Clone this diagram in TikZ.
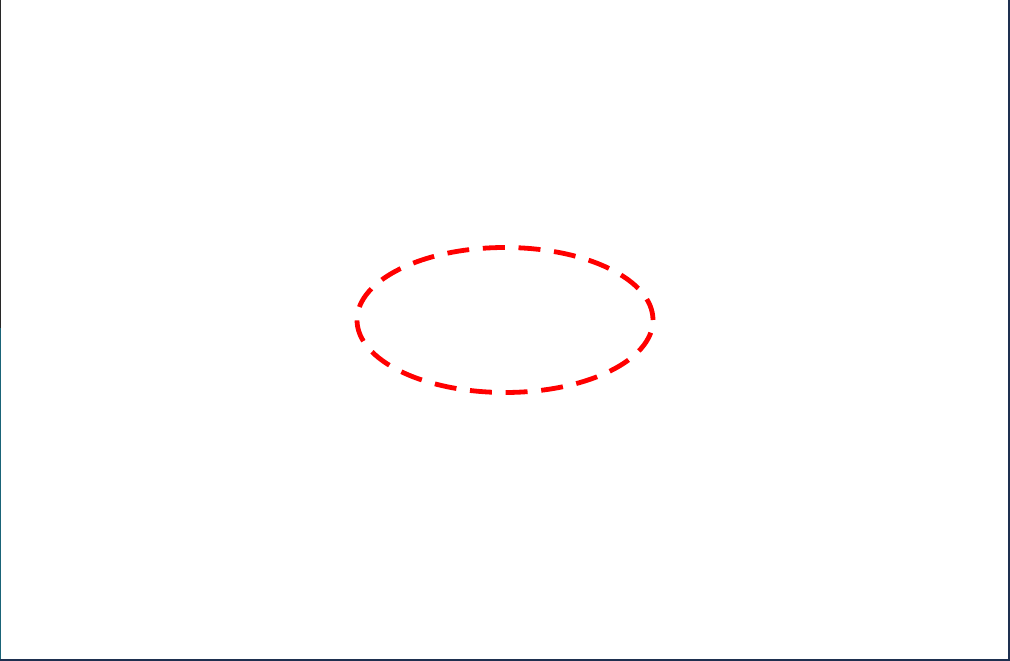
\documentclass[tikz,border=0pt]{standalone}
\begin{document}
\begin{tikzpicture}[x=1pt,y=1pt,
  redring/.style={draw={rgb,255:red,255;green,0;blue,0}, line width=4.8pt, dash pattern=on 22pt off 13.7pt}]
\definecolor{framenavy}{RGB}{30,48,80}
\definecolor{frameteal}{RGB}{26,100,120}
\definecolor{framedark}{RGB}{40,40,40}
\useasboundingbox (0,0) rectangle (1010,661);
\fill[white] (0,0) rectangle (1010,661);
% frame edges
\fill[framedark] (0,333) rectangle (1,661);
\fill[frameteal] (0,0) rectangle (1.2,333);
\fill[framenavy] (1008,0) rectangle (1010,661);
\fill[framenavy] (0,0) rectangle (1010,1.5);
% dashed ellipse
\coordinate (c) at (505,341);
\draw[redring] (c) ellipse [x radius=148, y radius=72.5];
\end{tikzpicture}
\end{document}
